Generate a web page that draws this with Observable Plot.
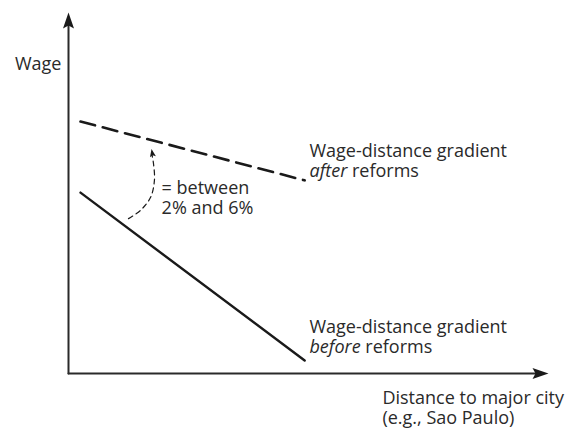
<!DOCTYPE html>
<html>
<head>
<meta charset="utf-8">
<script src="https://cdn.jsdelivr.net/npm/d3@7"></script>
<script src="https://cdn.jsdelivr.net/npm/@observablehq/plot@0.6"></script>
<style>
  html, body { margin: 0; padding: 0; background: #fff; }
  #chart svg { display: block; }
</style>
</head>
<body>
<div id="chart"></div>
<script>
// ---- data (chart units: 0..100 on both axes) ----
const axisX = [0, 100];
const axisY = [0, 100];
const afterX = [2.5, 49.2];
const afterY = [69.8, 53.5];
const beforeX = [2.5, 49.2];
const beforeY = [50.1, 3.6];
const arcX = [12.5, 15.0, 17.1, 17.9, 17.7, 17.3];
const arcY = [42.9, 45.2, 48.8, 53.5, 58.2, 61.2];
const arcTip = [17.3, 62.2];

const yLabel = "Wage";
const xLabel = "Distance to major city\n(e.g., Sao Paulo)";
const rangeLabel = "= between\n2% and 6%";
const afterLabel = {first: "Wage-distance gradient", italic: "after", rest: " reforms"};
const beforeLabel = {first: "Wage-distance gradient", italic: "before", rest: " reforms"};

const FONT = "Open Sans";
const FS = 18;
const LH = 20 / 18;
const INK = "#2a2a2a";

// custom arrowhead symbol, tip at origin pointing up
function makeHead(len, half, notch) {
  return {
    draw(context) {
      context.moveTo(0, 0);
      context.lineTo(-half, len);
      context.lineTo(0, len - notch);
      context.lineTo(half, len);
      context.closePath();
    }
  };
}
const bigHead = makeHead(16, 5.5, 3);
const smallHead = makeHead(8, 3, 1.5);

const textOpts = {fontFamily: FONT, fontSize: FS, fill: INK, lineAnchor: "bottom", textAnchor: "start", lineHeight: LH};
const gradText = l => l.first + "\n" + l.italic + l.rest;

const plot = Plot.plot({
  width: 571,
  height: 429,
  marginLeft: 68,
  marginRight: 23,
  marginTop: 12,
  marginBottom: 56,
  x: {domain: [0, 100], axis: null},
  y: {domain: [0, 100], axis: null},
  style: {fontFamily: FONT, background: "#fff"},
  marks: [
    // axes
    Plot.line([[axisX[0], axisY[0]], [axisX[0], axisY[1] - 1.5]], {stroke: INK, strokeWidth: 2}),
    Plot.line([[axisX[0], axisY[0]], [axisX[1] - 1.5, axisY[0]]], {stroke: INK, strokeWidth: 2}),
    // gradients
    Plot.line(afterX.map((x, i) => [x, afterY[i]]), {stroke: "#1a1a1a", strokeWidth: 2.6, strokeDasharray: "15,8"}),
    Plot.line(beforeX.map((x, i) => [x, beforeY[i]]), {stroke: "#1a1a1a", strokeWidth: 2.4}),
    // curved dashed arrow
    Plot.line(arcX.map((x, i) => [x, arcY[i]]), {stroke: "#1a1a1a", strokeWidth: 1.2, strokeDasharray: "5,4", curve: "catmull-rom"}),
    // arrowheads
    Plot.dot([[axisX[0], axisY[1]]], {r: 8, rotate: 0, symbol: bigHead, fill: "#1a1a1a", stroke: "none"}),
    Plot.dot([[axisX[1], axisY[0]]], {r: 8, rotate: 90, symbol: bigHead, fill: "#1a1a1a", stroke: "none"}),
    Plot.dot([arcTip], {r: 4, rotate: -10, symbol: smallHead, fill: "#1a1a1a", stroke: "none"}),
    // labels
    Plot.text([yLabel], {x: [-1.46], y: [84.2], text: d => d, ...textOpts, textAnchor: "end"}),
    Plot.text([rangeLabel], {x: [19.4], y: [44.3], text: d => d, ...textOpts}),
    Plot.text([gradText(afterLabel)], {x: [50.2], y: [54.3], text: d => d, ...textOpts, className: "grad-label"}),
    Plot.text([gradText(beforeLabel)], {x: [50.2], y: [5.8], text: d => d, ...textOpts, className: "grad-label"}),
    Plot.text([xLabel], {x: [65.4], y: [-14.1], text: d => d, ...textOpts})
  ]
});

// italicise the first word of the second line of each gradient label
[afterLabel, beforeLabel].forEach(l => {
  plot.querySelectorAll(".grad-label text").forEach(t => {
    const spans = t.querySelectorAll("tspan");
    if (spans.length === 2 && spans[1].textContent === l.italic + l.rest) {
      const s = spans[1];
      s.textContent = "";
      const it = document.createElementNS("http://www.w3.org/2000/svg", "tspan");
      it.setAttribute("font-style", "italic");
      it.textContent = l.italic;
      s.appendChild(it);
      s.appendChild(document.createTextNode(l.rest));
    }
  });
});

document.getElementById("chart").appendChild(plot);
</script>
</body>
</html>
